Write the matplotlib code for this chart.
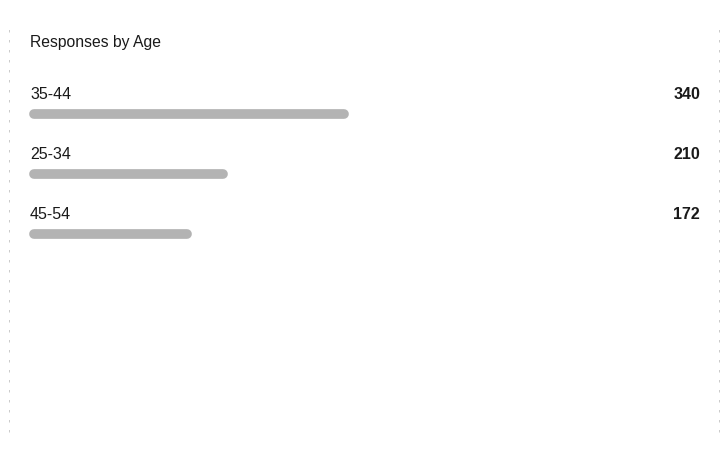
import matplotlib.pyplot as plt

# data
ages = ['35-44', '25-34', '45-54']
counts = [340, 210, 172]
title = 'Responses by Age'

plt.rcParams['font.family'] = ['Liberation Sans', 'DejaVu Sans']

fig = plt.figure(figsize=(7.23, 4.55), dpi=100)
ax = fig.add_axes([0, 0, 1, 1])

# 0 sits 30px from the left, 340 reaches ~348px
k = 340.0 / 318.0
ax.set_xlim(-30 * k, 693 * k)
# rows 60px apart, first bar at y=114px
ax.set_ylim((455 - 114) / 60.0, -114 / 60.0)
ax.axis('off')

for i, (a, c) in enumerate(zip(ages, counts)):
    ax.plot([4, c - 4], [i, i], color='#b3b3b3', lw=7, solid_capstyle='round')
    ax.text(0, i - 0.33, a, fontsize=11.5, va='center', ha='left', color='#1a1a1a')
    ax.text(670 * k, i - 0.33, str(c), fontsize=11.5, va='center', ha='right',
            fontweight='bold', color='#1a1a1a')

ax.text(0, -1.2, title, fontsize=11.3, va='center', ha='left', color='#1a1a1a')

# faint scan edges
for xp in [9, 719]:
    fig.add_artist(plt.Line2D([xp / 723, xp / 723], [0.05, 0.95], color='#999999',
                              lw=0.6, ls=(0, (3, 9)), alpha=0.6))

fig.savefig('out.png', dpi=100)
